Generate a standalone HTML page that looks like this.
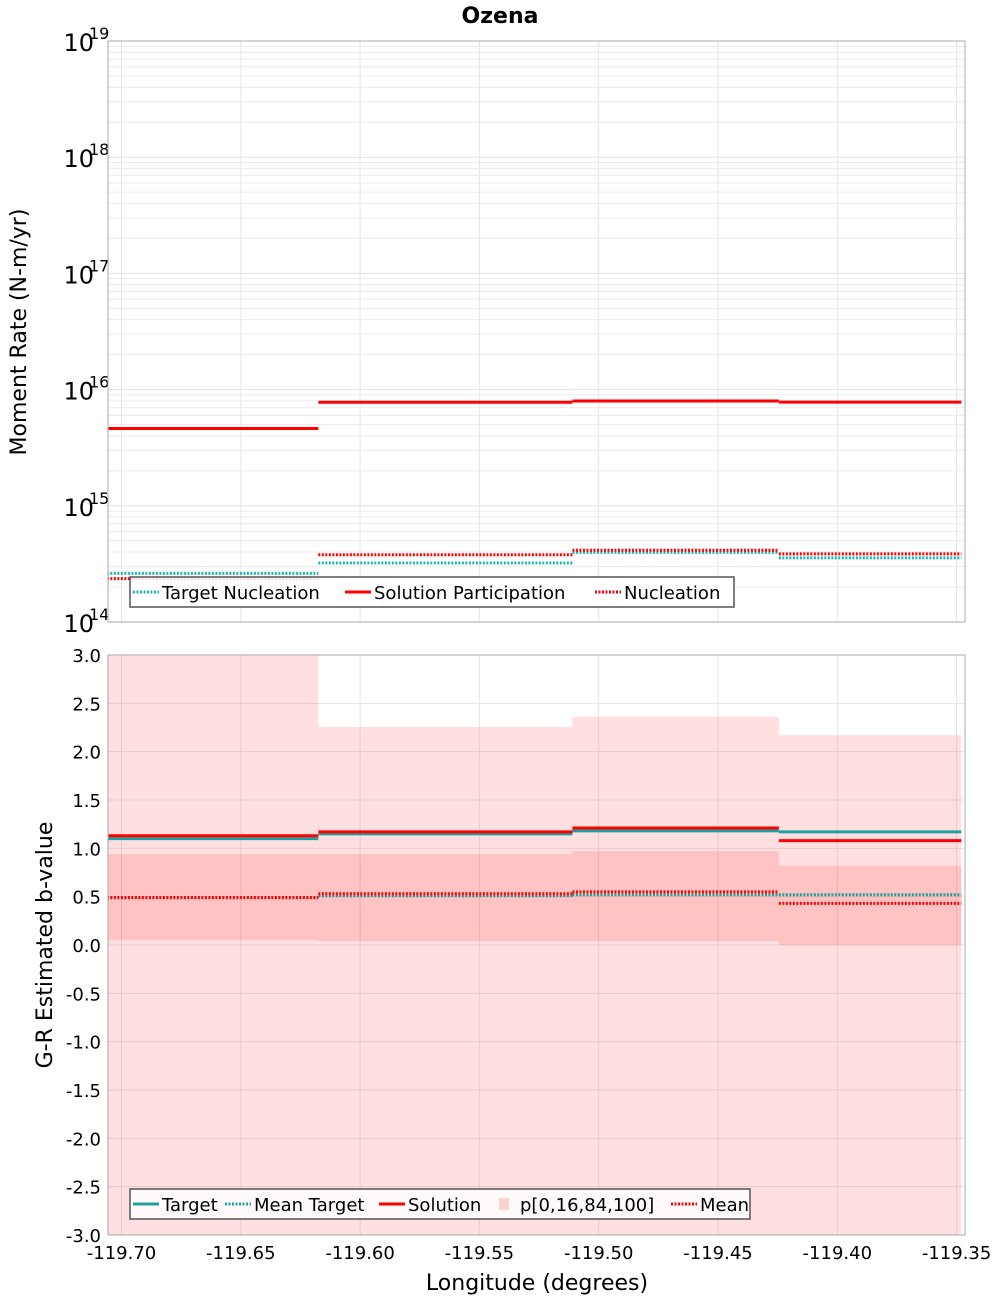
<!DOCTYPE html>
<html><head><meta charset="utf-8">
<style>
html,body{margin:0;padding:0;background:#fff;}
svg{display:block;font-family:"DejaVu Sans","Liberation Sans",sans-serif;}
</style></head>
<body>
<svg id="chart" width="1000" height="1300" viewBox="0 0 1000 1300" xmlns="http://www.w3.org/2000/svg">
<text x="500" y="23" text-anchor="middle" font-size="22" font-weight="bold">Ozena</text>
<g id="topPanel"></g>
<g id="botPanel"></g>
</svg>
<script>
// ---- data ----
const binEdges = [-119.712, -119.6175, -119.511, -119.4245, -119.348];
const solutionParticipation = [4.63e15, 7.78e15, 7.98e15, 7.8e15];
const targetNucleation = [2.62e14, 3.22e14, 3.97e14, 3.56e14];
const nucleation = [2.36e14, 3.79e14, 4.14e14, 3.86e14];
const bTarget = [1.10, 1.15, 1.18, 1.17];
const bSolution = [1.13, 1.17, 1.21, 1.08];
const bMeanTarget = [0.49, 0.51, 0.52, 0.52];
const bMean = [0.49, 0.53, 0.55, 0.43];
const bP0 = [-3.5, -3.5, -3.5, -3.5];
const bP16 = [0.05, 0.04, 0.04, 0.0];
const bP84 = [0.94, 0.94, 0.97, 0.82];
const bP100 = [3.5, 2.255, 2.36, 2.17];
const xTicks = [-119.70, -119.65, -119.60, -119.55, -119.50, -119.45, -119.40, -119.35];
const logExps = [14, 15, 16, 17, 18, 19];
const bTicks = [3.0, 2.5, 2.0, 1.5, 1.0, 0.5, 0.0, -0.5, -1.0, -1.5, -2.0, -2.5, -3.0];

const NS = "http://www.w3.org/2000/svg";
const L = 108, R = 965;
const T1 = 41, B1 = 622, T2 = 655, B2 = 1235;
const xS = v => 121.5 + (v - (-119.70)) * (119.3 / 0.05);
const yLog = v => T1 + (19 - Math.log10(v)) * ((B1 - T1) / 5);
const yB = v => T2 + (3 - v) * ((B2 - T2) / 6);

function mk(parent, tag, attrs) {
  const e = document.createElementNS(NS, tag);
  for (const k in attrs) e.setAttribute(k, attrs[k]);
  parent.appendChild(e);
  return e;
}
const topG = document.getElementById('topPanel');
const botG = document.getElementById('botPanel');

// ---------- TOP PANEL ----------
let clip1 = mk(topG, 'clipPath', {id: 'c1'});
mk(clip1, 'rect', {x: L, y: T1, width: R - L, height: B1 - T1});
let clip2 = mk(botG, 'clipPath', {id: 'c2'});
mk(clip2, 'rect', {x: L, y: T2, width: R - L, height: B2 - T2});

for (let e = 14; e < 19; e++) {
  for (let m = 1; m < 10; m++) {
    const y = yLog(m * Math.pow(10, e));
    const g = mk(topG, 'line', {x1: L, x2: R, y1: y, y2: y, stroke: m === 1 ? '#e2e2e2' : '#ececec', 'stroke-width': 1});
    
    
  }
}
xTicks.forEach(t => {
  const x = xS(t);
  const g = mk(topG, 'line', {x1: x, x2: x, y1: T1, y2: B1, stroke: '#e6e6e6'});
  
  
});
logExps.forEach(e => {
  const y = yLog(Math.pow(10, e));
  const t = mk(topG, 'text', {x: 94, y: y + 10, 'text-anchor': 'end', 'font-size': 24});
  t.textContent = '10';
  
  
  const s = mk(topG, 'text', {x: 89, y: y - 2, 'font-size': 16});
  s.textContent = String(e);
  
  
});
function steps(parent, arr, yf, color, dash, width, name, clip) {
  arr.forEach((v, i) => {
    const x1 = xS(binEdges[i]), x2 = xS(binEdges[i + 1]);
    const attrs = {x1: x1, x2: x2, y1: yf(v), y2: yf(v), stroke: color, 'stroke-width': width, 'clip-path': 'url(#' + clip + ')'};
    if (dash) attrs['stroke-dasharray'] = dash;
    const l = mk(parent, 'line', attrs);
    
    
  });
}
steps(topG, targetNucleation, yLog, '#1fb5b5', '2,1.5', 3, 'target-nucleation', 'c1');
steps(topG, solutionParticipation, yLog, '#ff0000', null, 3, 'solution-participation', 'c1');
steps(topG, nucleation, yLog, '#ff0000', '2,1.5', 3, 'nucleation', 'c1');
let f1 = mk(topG, 'rect', {x: L, y: T1, width: R - L, height: B1 - T1, fill: 'none', stroke: '#aaa'});


let yt1 = mk(topG, 'text', {x: 0, y: 0, transform: 'translate(26,332) rotate(-90)', 'text-anchor': 'middle', 'font-size': 22});
yt1.textContent = 'Moment Rate (N-m/yr)';



function legend(parent, x, y, w, items, name) {
  const g = mk(parent, 'g', {});
  
  
  mk(g, 'rect', {x: x, y: y, width: w, height: 30, fill: '#fff', 'fill-opacity': 0.85, stroke: '#555', 'stroke-width': 1.5});
  let cx = x + 3;
  items.forEach(it => {
    if (it.box) {
      mk(g, 'rect', {x: cx + 8, y: y + 9, width: 10, height: 12, fill: it.color});
    } else {
      const a = {x1: cx, x2: cx + 26, y1: y + 15, y2: y + 15, stroke: it.color, 'stroke-width': 3};
      if (it.dash) a['stroke-dasharray'] = '2,1.5';
      mk(g, 'line', a);
    }
    const t = mk(g, 'text', {x: cx + 29, y: y + 22, 'font-size': 18});
    t.textContent = it.label;
    
    
    cx += 29 + it.w + 5;
  });
}
legend(topG, 130, 577, 604, [
  {label: 'Target Nucleation', color: '#1fb5b5', dash: true, w: 178},
  {label: 'Solution Participation', color: '#ff0000', w: 216},
  {label: 'Nucleation', color: '#ff0000', dash: true, w: 108}
], 'top-legend');

// ---------- BOTTOM PANEL ----------
bTicks.forEach(t => {
  const y = yB(t);
  const g = mk(botG, 'line', {x1: L, x2: R, y1: y, y2: y, stroke: '#e6e6e6'});
  
  
  const tx = mk(botG, 'text', {x: 101, y: y + 7, 'text-anchor': 'end', 'font-size': 18});
  tx.textContent = t.toFixed(1);
  
  
});
xTicks.forEach(t => {
  const x = xS(t);
  const g = mk(botG, 'line', {x1: x, x2: x, y1: T2, y2: B2, stroke: '#e6e6e6'});
  
  
  const tx = mk(botG, 'text', {x: x, y: 1259, 'text-anchor': 'middle', 'font-size': 18});
  tx.textContent = t.toFixed(2);
  
  
});
function band(lo, hi, name) {
  lo.forEach((v, i) => {
    const x1 = xS(binEdges[i]), x2 = xS(binEdges[i + 1]);
    const y1 = yB(hi[i]), y2 = yB(v);
    const r = mk(botG, 'rect', {x: x1, y: y1, width: x2 - x1, height: y2 - y1, fill: '#ff0000', 'fill-opacity': 0.125, 'clip-path': 'url(#c2)'});
    
    
  });
}
band(bP0, bP100, 'band-p0-p100');
band(bP16, bP84, 'band-p16-p84');
steps(botG, bTarget, yB, '#1fa0a0', null, 3, 'target', 'c2');
steps(botG, bMeanTarget, yB, '#1fa0a0', '2,1.5', 3, 'mean-target', 'c2');
steps(botG, bSolution, yB, '#ff0000', null, 3, 'solution', 'c2');
steps(botG, bMean, yB, '#ff0000', '2,1.5', 3, 'mean', 'c2');
let f2 = mk(botG, 'rect', {x: L, y: T2, width: R - L, height: B2 - T2, fill: 'none', stroke: '#aaa'});


let yt2 = mk(botG, 'text', {x: 0, y: 0, transform: 'translate(52,945) rotate(-90)', 'text-anchor': 'middle', 'font-size': 22});
yt2.textContent = 'G-R Estimated b-value';


let xt = mk(botG, 'text', {x: 537, y: 1290, 'text-anchor': 'middle', 'font-size': 22});
xt.textContent = 'Longitude (degrees)';


legend(botG, 130, 1189, 620, [
  {label: 'Target', color: '#1fa0a0', w: 58},
  {label: 'Mean Target', color: '#1fa0a0', dash: true, w: 120},
  {label: 'Solution', color: '#ff0000', w: 78},
  {label: 'p[0,16,84,100]', color: '#ffd0d0', box: true, w: 146},
  {label: 'Mean', color: '#ff0000', dash: true, w: 50}
], 'bottom-legend');
</script>
</body></html>
